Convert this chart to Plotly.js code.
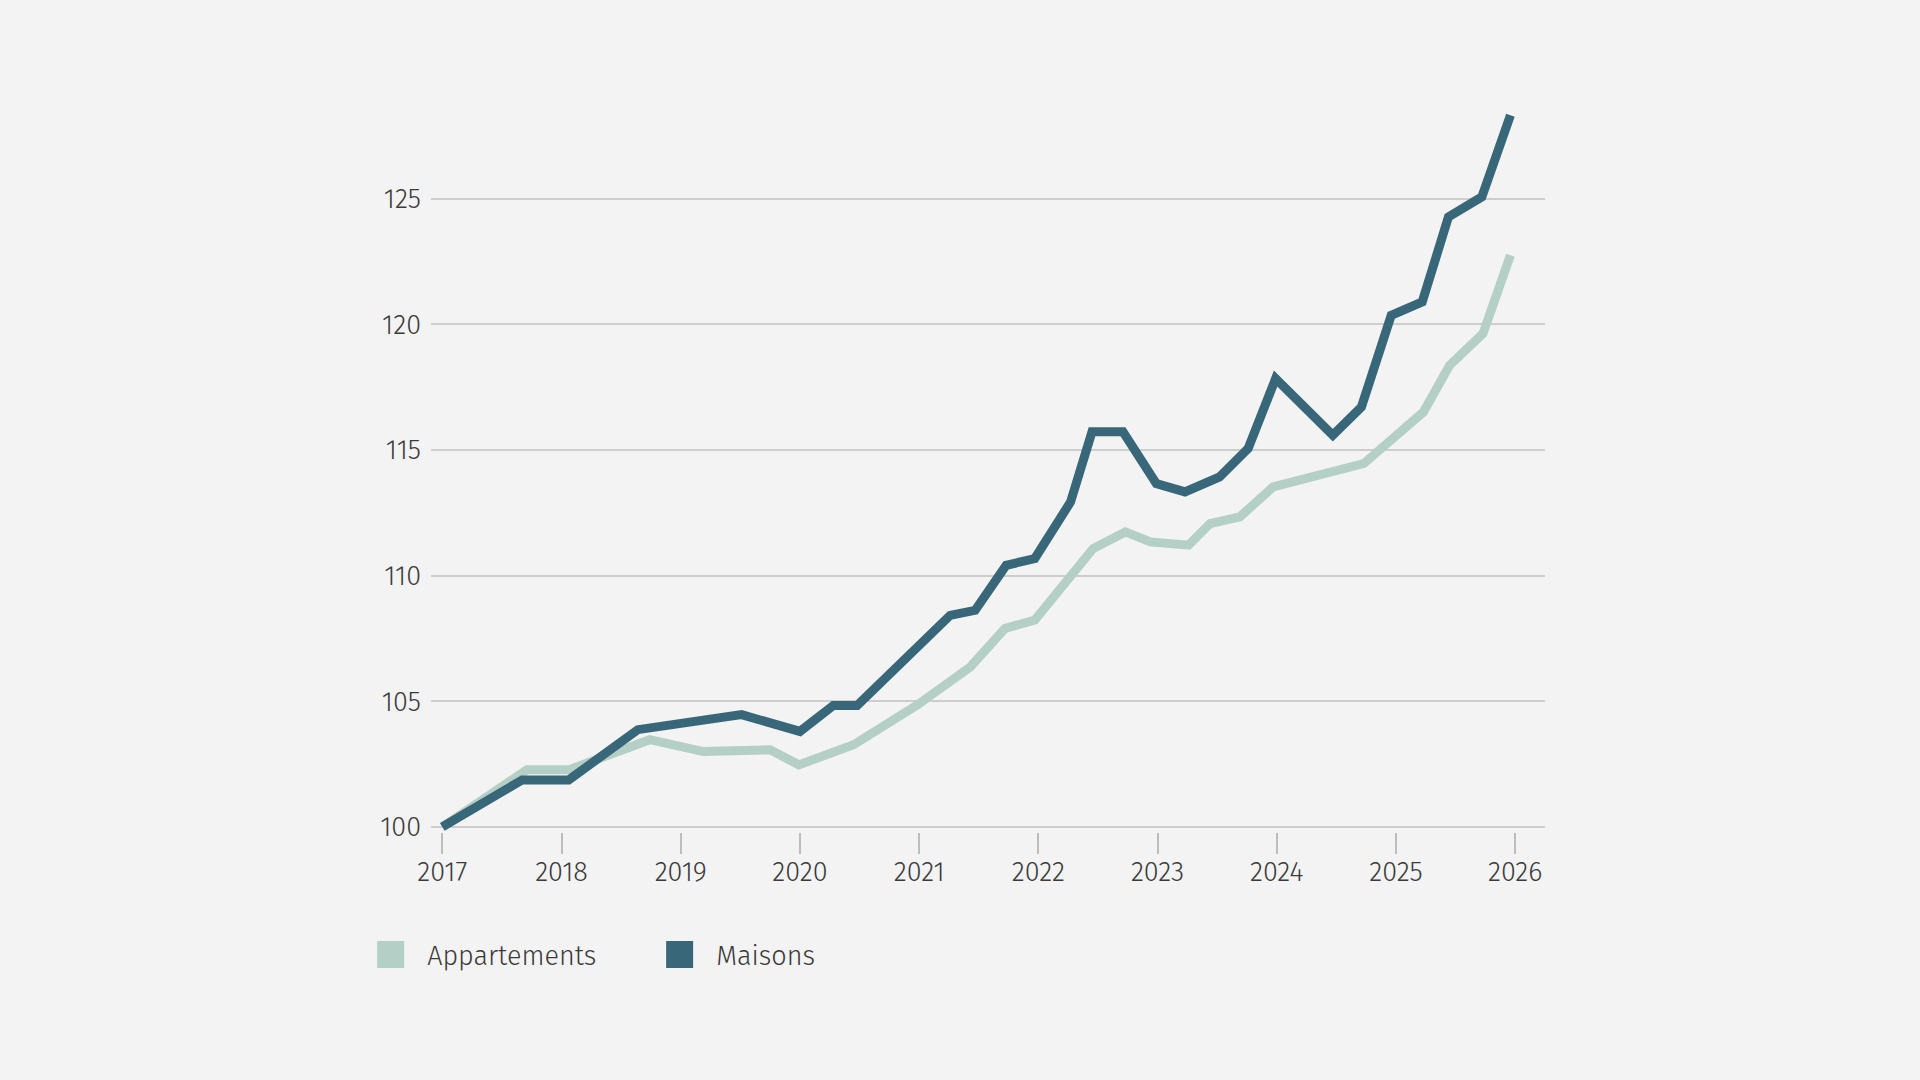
<!DOCTYPE html>
<html>
<head>
<meta charset="utf-8">
<script src="https://cdn.plot.ly/plotly-3.0.1.min.js"></script>
<style>
  html, body { margin: 0; padding: 0; background: #f3f3f3; }
  #chart { width: 1920px; height: 1080px; }
</style>
</head>
<body>
<div id="chart"></div>
<script>
// ---- Data ----
const seriesNames = ["Appartements", "Maisons"];

const appartX = [2017.0, 2017.71, 2018.06, 2018.74, 2019.19, 2019.75, 2019.99, 2020.45, 2020.98,
                 2021.43, 2021.72, 2021.97, 2022.46, 2022.73, 2022.94, 2023.26, 2023.44, 2023.69,
                 2023.97, 2024.73, 2025.23, 2025.45, 2025.73, 2025.96];
const appartY = [100, 102.27, 102.27, 103.47, 103.0, 103.07, 102.47, 103.27, 104.84,
                 106.37, 107.9, 108.23, 111.08, 111.74, 111.34, 111.21, 112.07, 112.34,
                 113.53, 114.46, 116.51, 118.37, 119.63, 122.75];

const maisonsX = [2017.0, 2017.67, 2018.06, 2018.64, 2019.51, 2020.0, 2020.28, 2020.48, 2021.26,
                  2021.47, 2021.73, 2021.97, 2022.27, 2022.45, 2022.71, 2022.99, 2023.23, 2023.52,
                  2023.76, 2023.99, 2024.47, 2024.71, 2024.96, 2025.22, 2025.44, 2025.72, 2025.96];
const maisonsY = [100, 101.87, 101.87, 103.87, 104.47, 103.8, 104.83, 104.83, 108.42,
                  108.62, 110.41, 110.68, 112.93, 115.72, 115.72, 113.66, 113.33, 113.93,
                  115.06, 117.84, 115.59, 116.71, 120.36, 120.89, 124.27, 125.07, 128.32];

const yTickVals = [100, 105, 110, 115, 120, 125];
const xTickVals = [2017, 2018, 2019, 2020, 2021, 2022, 2023, 2024, 2025, 2026];
const xTickText = ["2017", "2018", "2019", "2020", "2021", "2022", "2023", "2024", "2025", "2026"];

// ---- Styling ----
const colAppart = "#b4cfc5";
const colMaisons = "#386779";
const fontFam = "'Fira Sans', 'Open Sans', 'Noto Sans', sans-serif";
const txtCol = "#3a3a3a";

const yMin = 99.4, yMax = 130;
const xAxisPos = (99.8 - yMin) / (yMax - yMin);

const traces = [
  { x: appartX, y: appartY, type: "scatter", mode: "lines", name: seriesNames[0],
    line: { color: colAppart, width: 9, shape: "linear" }, showlegend: false, hoverinfo: "skip" },
  { x: maisonsX, y: maisonsY, type: "scatter", mode: "lines", name: seriesNames[1],
    line: { color: colMaisons, width: 9, shape: "linear" }, showlegend: false, hoverinfo: "skip" },
  // legend entries (square swatches)
  { x: [null], y: [null], type: "scatter", mode: "markers", name: seriesNames[0],
    marker: { symbol: "square", color: colAppart, size: 16 }, showlegend: true },
  { x: [null], y: [null], type: "scatter", mode: "markers", name: seriesNames[1],
    marker: { symbol: "square", color: colMaisons, size: 16 }, showlegend: true }
];

const layout = {
  width: 1920, height: 1080,
  paper_bgcolor: "#f3f3f3", plot_bgcolor: "#f3f3f3",
  margin: { l: 431, r: 375, t: 73, b: 238, pad: 0 },
  font: { family: fontFam, color: txtCol, size: 27, weight: 300 },
  xaxis: {
    range: [2016.905, 2026.25],
    tickvals: xTickVals, ticktext: xTickText,
    showgrid: false, zeroline: false, showline: false,
    anchor: "free", position: xAxisPos,
    ticks: "outside", ticklen: 21, tickwidth: 2, tickcolor: "#bdbdbd",
    ticklabelstandoff: -5,
    tickfont: { family: fontFam, size: 27, color: txtCol, weight: 300 },
    fixedrange: true
  },
  yaxis: {
    range: [yMin, yMax],
    tickvals: yTickVals,
    showgrid: true, gridcolor: "#cdcdcd", gridwidth: 2,
    zeroline: false, showline: false, ticks: "",
    ticklabelstandoff: 9,
    tickfont: { family: fontFam, size: 27, color: txtCol, weight: 300 },
    fixedrange: true
  },
  showlegend: true,
  legend: {
    orientation: "h",
    x: -0.069, xanchor: "left",
    y: -0.147, yanchor: "middle",
    itemwidth: 63,
    entrywidth: 211, entrywidthmode: "pixels",
    bgcolor: "rgba(0,0,0,0)",
    font: { family: fontFam, size: 27, color: txtCol, weight: 300 }
  }
};

Plotly.newPlot("chart", traces, layout, { displayModeBar: false, staticPlot: true }).then(function (gd) {
  // enlarge legend swatches to match the reference squares
  gd.querySelectorAll(".legend .legendpoints path.scatterpts").forEach(function (p) {
    p.setAttribute("d", "M13.5,13.5H-13.5V-13.5H13.5Z");
  });
});
</script>
</body>
</html>
